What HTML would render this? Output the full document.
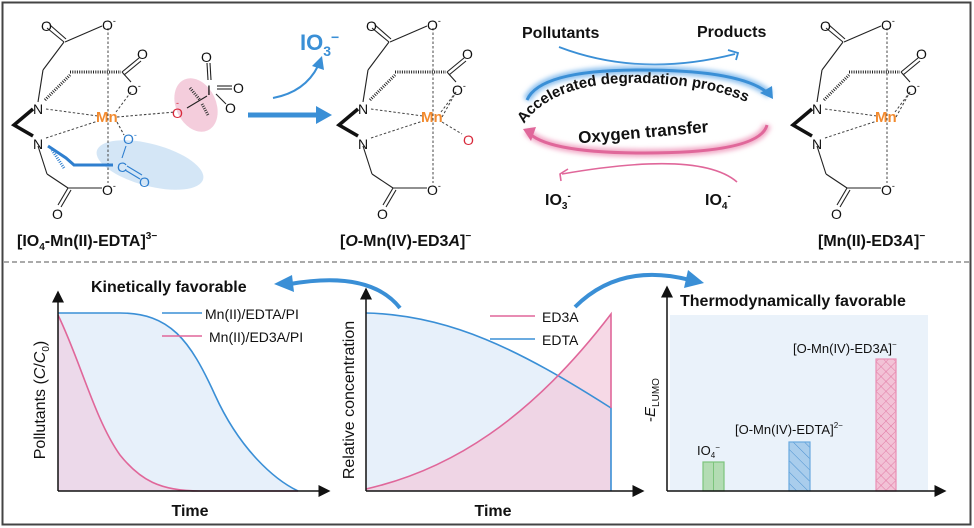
<!DOCTYPE html>
<html><head><meta charset="utf-8"><style>
html,body{margin:0;padding:0;background:#fff}
svg{display:block}
text{font-family:"Liberation Sans",sans-serif;fill:#111}
</style></head><body>
<svg width="974" height="528" viewBox="0 0 974 528" xmlns="http://www.w3.org/2000/svg">
<defs>
<marker id="ah" markerWidth="8" markerHeight="8" refX="5" refY="4" orient="auto"><path d="M0,0 L8,4 L0,8 Z" fill="#111"/></marker>
<pattern id="hatchB" width="8" height="8" patternUnits="userSpaceOnUse" patternTransform="rotate(-45)"><rect width="8" height="8" fill="#a9cdec"/><line x1="0" y1="0" x2="0" y2="8" stroke="#4a90d0" stroke-width="1"/></pattern>
<pattern id="hatchP" width="7" height="7" patternUnits="userSpaceOnUse" patternTransform="rotate(45)"><rect width="7" height="7" fill="#f2c2d6"/><line x1="0" y1="0" x2="0" y2="7" stroke="#e27aa5" stroke-width="1"/><line x1="0" y1="0" x2="7" y2="0" stroke="#e27aa5" stroke-width="1"/></pattern>
<filter id="glow" x="-10%" y="-50%" width="120%" height="200%"><feGaussianBlur stdDeviation="2.5"/></filter>
<g id="core" fill="none" stroke="#222" stroke-width="1.1">
  <line x1="47" y1="28" x2="64" y2="42"/><line x1="50" y1="25" x2="66" y2="39"/>
  <line x1="65" y1="42" x2="102" y2="26"/>
  <line x1="64" y1="42" x2="43" y2="70"/><line x1="43" y1="70" x2="38" y2="102"/>
  <line x1="45" y1="100" x2="70" y2="75" stroke-dasharray="1 1.3" stroke-width="3"/>
  <line x1="70" y1="72" x2="121" y2="72" stroke-dasharray="1 1.3" stroke-width="3"/>
  <line x1="122" y1="72" x2="139" y2="58"/><line x1="124" y1="75" x2="141" y2="61"/>
  <line x1="122" y1="72" x2="131" y2="82"/>
  <line x1="38" y1="146" x2="47" y2="174"/><line x1="47" y1="174" x2="68" y2="188"/>
  <line x1="68" y1="188" x2="58" y2="205"/><line x1="71" y1="190" x2="61" y2="207"/>
  <line x1="68" y1="188" x2="102" y2="188"/>
  <path d="M33,109 L14,125 L33,136" stroke="#111" stroke-width="3.5"/>
  <g stroke-dasharray="2.5 2" stroke="#444" stroke-width="1">
   <line x1="108" y1="28" x2="108" y2="183"/>
   <line x1="46" y1="109" x2="98" y2="116"/>
   <line x1="46" y1="138" x2="98" y2="121"/>
   <line x1="116" y1="112" x2="131" y2="92"/>
  </g>
</g>
<g id="coreT">
  <text x="41" y="31" font-size="14">O</text>
  <text x="102" y="30" font-size="14">O<tspan font-size="9" dy="-6">-</tspan></text>
  <text x="137" y="59" font-size="14">O</text>
  <text x="127" y="95" font-size="14">O<tspan font-size="9" dy="-6">-</tspan></text>
  <text x="33" y="114" font-size="14">N</text>
  <text x="33" y="149" font-size="14">N</text>
  <text x="102" y="195" font-size="14">O<tspan font-size="9" dy="-6">-</tspan></text>
  <text x="52" y="219" font-size="14">O</text>
  <text x="96" y="122" font-size="15" font-weight="bold" style="fill:#f28a2e">Mn</text>
</g>
</defs>
<rect x="0" y="0" width="974" height="528" fill="#fff"/>
<rect x="2.5" y="2.5" width="968" height="522" fill="none" stroke="#444" stroke-width="2"/>
<line x1="4" y1="262" x2="970" y2="262" stroke="#777" stroke-width="1.3" stroke-dasharray="5 3"/>

<!-- structure 1 -->
<ellipse cx="196" cy="105" rx="20" ry="28" transform="rotate(-25 196 105)" fill="#f2c4d6" opacity="0.85"/>
<ellipse cx="150" cy="165" rx="55" ry="21" transform="rotate(15 150 165)" fill="#cfe3f5" opacity="0.9"/>
<use href="#core"/>
<g fill="none" stroke-width="1.1">
 <line x1="117" y1="117" x2="175" y2="112" stroke="#444" stroke-dasharray="2.5 2"/>
 <line x1="117" y1="122" x2="124" y2="135" stroke="#444" stroke-dasharray="2.5 2"/>
 <line x1="187" y1="108" x2="207" y2="96" stroke="#222"/>
 <line x1="208" y1="80" x2="207" y2="63" stroke="#222"/><line x1="211" y1="80" x2="210" y2="63" stroke="#222"/>
 <line x1="217" y1="86" x2="232" y2="86" stroke="#222"/><line x1="217" y1="89" x2="232" y2="89" stroke="#222"/>
 <line x1="216" y1="94" x2="226" y2="104" stroke="#222"/>
 <line x1="190" y1="88" x2="200" y2="100" stroke="#333" stroke-width="3" stroke-dasharray="1 1.3"/>
 <line x1="202" y1="104" x2="208" y2="115" stroke="#333" stroke-width="3" stroke-dasharray="1 1.3"/>
 <path d="M48,146 L66,158 L74,165 L113,165" stroke="#2f7fcf" stroke-width="3"/>
 <line x1="52" y1="150" x2="64" y2="168" stroke="#2f7fcf" stroke-width="3" stroke-dasharray="1 1.3"/>
 <line x1="122" y1="158" x2="126" y2="146" stroke="#2f7fcf"/>
 <line x1="125" y1="170" x2="140" y2="179" stroke="#2f7fcf"/><line x1="127" y1="166" x2="142" y2="175" stroke="#2f7fcf"/>
</g>
<use href="#coreT"/>
<text x="172" y="118" font-size="14" style="fill:#d8283a">O</text>
<text x="176" y="106" font-size="9" style="fill:#d8283a">-</text>
<text x="207" y="95" font-size="14">I</text>
<text x="201" y="62" font-size="14">O</text>
<text x="233" y="93" font-size="14">O</text>
<text x="225" y="113" font-size="14">O</text>
<text x="117" y="172" font-size="14" style="fill:#2f7fcf">C</text>
<text x="123" y="144" font-size="14" style="fill:#2f7fcf">O<tspan font-size="9" dy="-6">-</tspan></text>
<text x="139" y="187" font-size="14" style="fill:#2f7fcf">O</text>
<text x="17" y="246" font-size="16" font-weight="bold">[IO<tspan font-size="10" dy="4">4</tspan><tspan dy="-4">-Mn(II)-EDTA]</tspan><tspan font-size="10" dy="-7">3−</tspan></text>

<!-- arrows middle -->
<line x1="248" y1="115" x2="318" y2="115" stroke="#3a8fd6" stroke-width="5"/>
<path d="M316,106 L332,115 L316,124 Z" fill="#3a8fd6"/>
<path d="M273,98 Q305,92 318,66" fill="none" stroke="#3a8fd6" stroke-width="2"/>
<path d="M312,66 L322,56 L324,70 Z" fill="#3a8fd6"/>
<text x="300" y="50" font-size="22" font-weight="bold" style="fill:#3a8fd6">IO<tspan font-size="14" dy="6">3</tspan><tspan font-size="14" dy="-14">−</tspan></text>

<!-- structure 2 -->
<g transform="translate(325,0)">
 <use href="#core"/>
 <line x1="117" y1="117" x2="131" y2="92" stroke="#444" stroke-dasharray="2.5 2"/>
 <line x1="117" y1="122" x2="137" y2="134" stroke="#444" stroke-dasharray="2.5 2"/>
 <use href="#coreT"/>
 <text x="138" y="145" font-size="14" style="fill:#d8283a">O</text>
</g>
<text x="340" y="246" font-size="16" font-weight="bold">[<tspan font-style="italic">O</tspan>-Mn(IV)-ED3<tspan font-style="italic">A</tspan>]<tspan font-size="10" dy="-7">−</tspan></text>

<!-- cycle -->
<text x="522" y="38" font-size="16" font-weight="bold">Pollutants</text>
<text x="697" y="37" font-size="16" font-weight="bold">Products</text>
<path d="M559,47 Q640,78 735,54" fill="none" stroke="#3a8fd6" stroke-width="1.8"/>
<path d="M728,50 L738,53 L736,60" fill="none" stroke="#3a8fd6" stroke-width="1.8"/>
<path d="M527,100 Q540,70 640,70 Q745,70 770,95" fill="none" stroke="#8cc0ee" stroke-width="8" filter="url(#glow)"/>
<path d="M527,100 Q540,70 640,70 Q745,70 770,95" fill="none" stroke="#3a8fd6" stroke-width="3"/>
<path d="M760,93 L773,99 L772,86 Z" fill="#3a8fd6"/>
<path id="tp1" d="M524,124 Q555,80 645,83 Q735,86 772,118" fill="none"/>
<text font-size="15" font-weight="bold"><textPath href="#tp1">Accelerated degradation process</textPath></text>
<path d="M767,125 Q760,153 645,153 Q545,153 527,131" fill="none" stroke="#f1a9c6" stroke-width="8" filter="url(#glow)"/>
<path d="M767,125 Q760,153 645,153 Q545,153 527,131" fill="none" stroke="#e0679a" stroke-width="3"/>
<path d="M536,127 L523,129 L531,141 Z" fill="#e0679a"/>
<text x="578" y="138" font-size="17" font-weight="bold" transform="rotate(-5 640 132)">Oxygen transfer</text>
<path d="M737,182 Q700,150 562,174" fill="none" stroke="#e0679a" stroke-width="1.6"/>
<path d="M568,169 L560,174 L561,181" fill="none" stroke="#e0679a" stroke-width="1.6"/>
<text x="545" y="205" font-size="16" font-weight="bold">IO<tspan font-size="10" dy="4">3</tspan><tspan font-size="10" dy="-10">-</tspan></text>
<text x="705" y="205" font-size="16" font-weight="bold">IO<tspan font-size="10" dy="4">4</tspan><tspan font-size="10" dy="-10">-</tspan></text>

<!-- structure 3 -->
<g transform="translate(779,0)">
 <use href="#core"/>
 <line x1="117" y1="117" x2="131" y2="92" stroke="#444" stroke-dasharray="2.5 2"/>
 <use href="#coreT"/>
</g>
<text x="818" y="246" font-size="16" font-weight="bold">[Mn(II)-ED3<tspan font-style="italic">A</tspan>]<tspan font-size="10" dy="-7">−</tspan></text>

<!-- panel 1 -->
<path d="M58,313 L120,313 C170,313 190,340 215,395 S275,480 298,491 L58,491 Z" fill="#e7f0fa"/>
<path d="M58,315 C80,360 95,420 120,455 C140,480 160,491 200,491 L58,491 Z" fill="#ecd9ea"/>
<path d="M58,313 L120,313 C170,313 190,340 215,395 S275,480 298,491" fill="none" stroke="#3a8fd6" stroke-width="1.6"/>
<path d="M58,315 C80,360 95,420 120,455 C140,480 160,491 200,491 L298,491" fill="none" stroke="#e0679a" stroke-width="1.6"/>
<line x1="58" y1="491" x2="58" y2="295" stroke="#111" stroke-width="1.5" marker-end="url(#ah)"/>
<line x1="58" y1="491" x2="326" y2="491" stroke="#111" stroke-width="1.5" marker-end="url(#ah)"/>
<line x1="162" y1="313" x2="202" y2="313" stroke="#3a8fd6" stroke-width="1.6"/>
<line x1="162" y1="336" x2="202" y2="336" stroke="#e0679a" stroke-width="1.6"/>
<text x="205" y="319" font-size="14">Mn(II)/EDTA/PI</text>
<text x="209" y="342" font-size="14">Mn(II)/ED3A/PI</text>
<text x="91" y="292" font-size="16" font-weight="bold">Kinetically favorable</text>
<text transform="translate(45,400) rotate(-90)" text-anchor="middle" font-size="16">Pollutants (<tspan font-style="italic">C</tspan>/<tspan font-style="italic">C</tspan><tspan font-size="10" dy="4">0</tspan><tspan dy="-4">)</tspan></text>
<text x="190" y="516" text-anchor="middle" font-size="16" font-weight="bold">Time</text>

<!-- curved arrows -->
<path d="M400,308 Q370,270 290,284" fill="none" stroke="#3a8fd6" stroke-width="4"/>
<path d="M292,275 L274,284 L294,292 Z" fill="#3a8fd6"/>
<path d="M575,307 Q620,262 690,280" fill="none" stroke="#3a8fd6" stroke-width="4"/>
<path d="M688,270 L704,283 L684,288 Z" fill="#3a8fd6"/>

<!-- panel 2 -->
<path d="M366,313 C450,315 520,350 611,408 L611,491 L366,491 Z" fill="#e7f0fa"/>
<path d="M366,489 C450,470 530,420 611,314 L611,491 L366,491 Z" fill="#f2c9dc" opacity="0.7"/>
<path d="M366,313 C450,315 520,350 611,408 L611,491" fill="none" stroke="#3a8fd6" stroke-width="1.6"/>
<path d="M366,489 C450,470 530,420 611,314 L611,408" fill="none" stroke="#e0679a" stroke-width="1.6"/>
<line x1="366" y1="491" x2="366" y2="292" stroke="#111" stroke-width="1.5" marker-end="url(#ah)"/>
<line x1="366" y1="491" x2="640" y2="491" stroke="#111" stroke-width="1.5" marker-end="url(#ah)"/>
<line x1="490" y1="316" x2="535" y2="316" stroke="#e0679a" stroke-width="1.6"/>
<line x1="490" y1="339" x2="535" y2="339" stroke="#3a8fd6" stroke-width="1.6"/>
<text x="542" y="322" font-size="14">ED3A</text>
<text x="542" y="345" font-size="14">EDTA</text>
<text transform="translate(354,400) rotate(-90)" text-anchor="middle" font-size="16">Relative concentration</text>
<text x="493" y="516" text-anchor="middle" font-size="16" font-weight="bold">Time</text>

<!-- panel 3 -->
<rect x="670" y="315" width="258" height="176" fill="#eaf2fa"/>
<rect x="703" y="462" width="21" height="29" fill="#b3dcb3" stroke="#7cc47c" stroke-width="1.2"/>
<line x1="713.5" y1="462" x2="713.5" y2="491" stroke="#7cc47c"/>
<rect x="789" y="442" width="21" height="49" fill="url(#hatchB)" stroke="#6aaae0" stroke-width="1.2"/>
<rect x="876" y="359" width="20" height="132" fill="url(#hatchP)" stroke="#eb8fb4" stroke-width="1.2"/>
<line x1="667" y1="491" x2="667" y2="290" stroke="#111" stroke-width="1.5" marker-end="url(#ah)"/>
<line x1="667" y1="491" x2="942" y2="491" stroke="#111" stroke-width="1.5" marker-end="url(#ah)"/>
<text x="680" y="306" font-size="16" font-weight="bold">Thermodynamically favorable</text>
<text transform="translate(655,400) rotate(-90)" text-anchor="middle" font-size="15">-<tspan font-style="italic">E</tspan><tspan font-size="10" dy="4">LUMO</tspan></text>
<text x="697" y="455" font-size="13">IO<tspan font-size="8" dy="3">4</tspan><tspan font-size="8" dy="-8">−</tspan></text>
<text x="735" y="434" font-size="13">[O-Mn(IV)-EDTA]<tspan font-size="8" dy="-6">2−</tspan></text>
<text x="793" y="353" font-size="13">[O-Mn(IV)-ED3A]<tspan font-size="8" dy="-6">−</tspan></text>
</svg>
</body></html>
